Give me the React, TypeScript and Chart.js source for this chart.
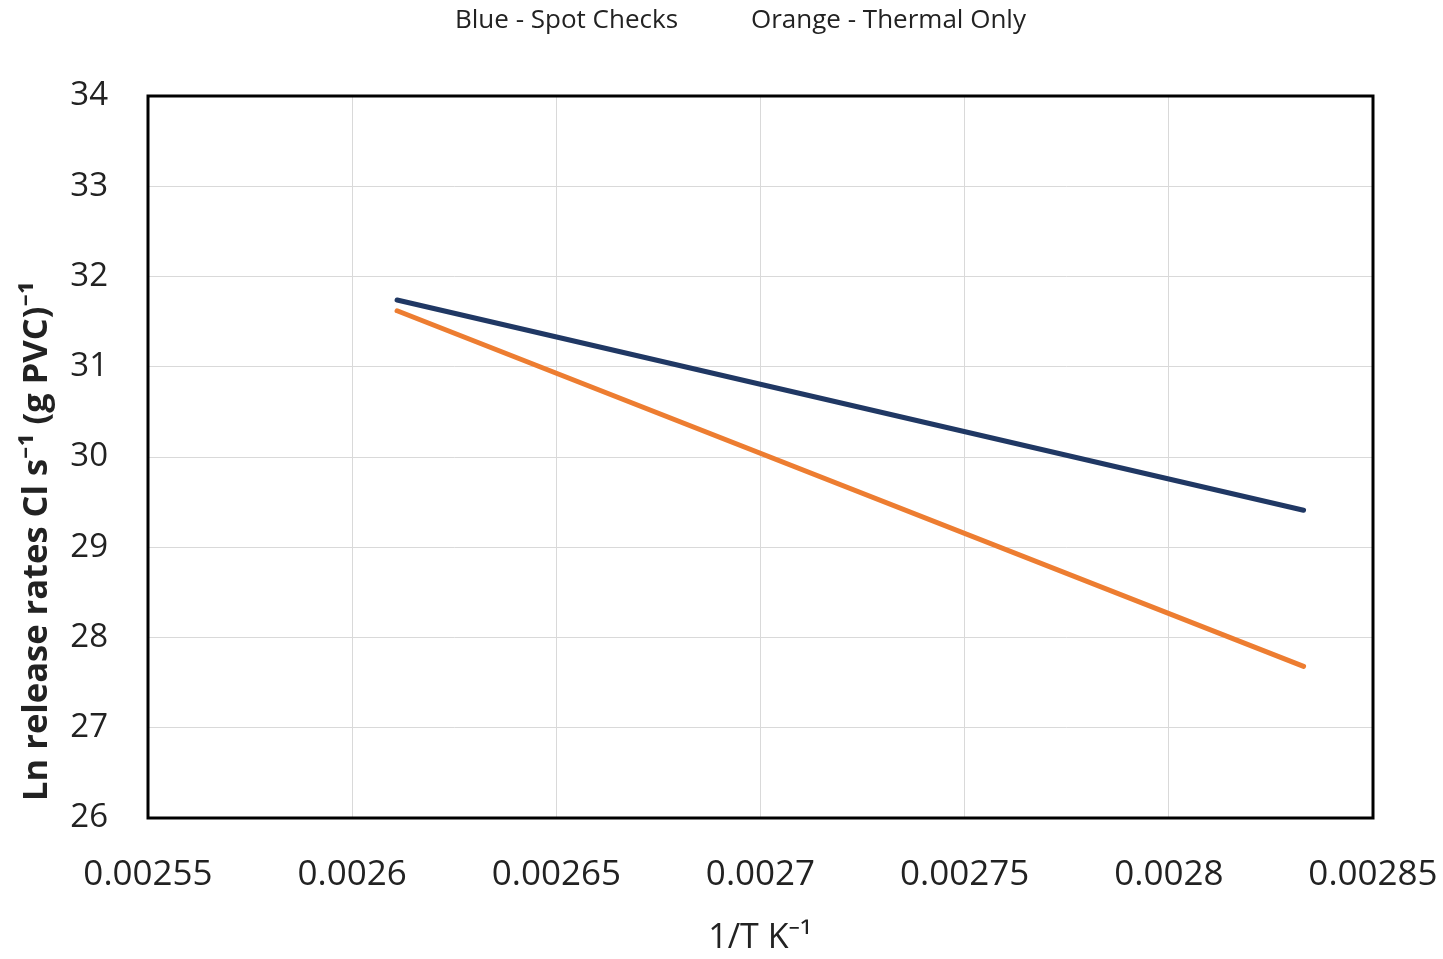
import React, { useEffect, useRef } from "react";
import { Chart, registerables } from "chart.js";

Chart.register(...registerables);

const xValues = [0.002611, 0.002833];
const spotChecks = [31.74, 29.41];
const thermalOnly = [31.62, 27.68];
const legendLeft = "Blue - Spot Checks";
const legendRight = "Orange - Thermal Only";
const xTitle = "1/T K⁻¹";
const yTitle = "Ln release rates Cl s⁻¹ (g PVC)⁻¹";

const FONT = "'Open Sans', 'Noto Sans', sans-serif";

const framePlugin = {
  id: "frame",
  afterDatasetsDraw(chart: any) {
    const { ctx, chartArea } = chart;
    ctx.save();
    ctx.strokeStyle = "#000";
    ctx.lineWidth = 3;
    ctx.strokeRect(chartArea.left, chartArea.top, chartArea.right - chartArea.left, chartArea.bottom - chartArea.top);
    ctx.restore();
  },
  afterDraw(chart: any) {
    const { ctx } = chart;
    ctx.save();
    ctx.fillStyle = "#222";
    ctx.font = `26px ${FONT}`;
    ctx.textAlign = "left";
    ctx.textBaseline = "middle";
    ctx.fillText(legendLeft, 455, 21);
    ctx.fillText(legendRight, 751, 21);
    ctx.font = `34px ${FONT}`;
    ctx.textAlign = "center";
    ctx.fillText(xTitle, 760, 938);
    ctx.translate(37, 541);
    ctx.rotate(-Math.PI / 2);
    ctx.font = `bold 34.5px ${FONT}`;
    ctx.fillText(yTitle, 0, 0);
    ctx.restore();
  },
};

export default function App() {
  const ref = useRef<HTMLCanvasElement>(null);
  useEffect(() => {
    if (!ref.current) return;
    const chart = new Chart(ref.current, {
      type: "line",
      data: {
        datasets: [
          {
            label: "Spot Checks",
            data: xValues.map((x, i) => ({ x, y: spotChecks[i] })),
            borderColor: "#203864",
            borderWidth: 5,
            borderCapStyle: "round",
            pointRadius: 0,
            fill: false,
          },
          {
            label: "Thermal Only",
            data: xValues.map((x, i) => ({ x, y: thermalOnly[i] })),
            borderColor: "#ED7D31",
            borderWidth: 5,
            borderCapStyle: "round",
            pointRadius: 0,
            fill: false,
          },
        ],
      },
      options: {
        animation: false,
        responsive: false,
        maintainAspectRatio: false,
        layout: { padding: { top: 96, right: 70, left: 0, bottom: 0 } },
        plugins: { legend: { display: false }, title: { display: false }, tooltip: { enabled: false } },
        scales: {
          x: {
            type: "linear",
            min: 0.00255,
            max: 0.00285,
            ticks: {
              stepSize: 0.00005,
              color: "#222",
              font: { family: FONT, size: 35 },
              padding: 36,
              callback: (v: any) => parseFloat(Number(v).toFixed(5)).toString(),
              maxRotation: 0,
              autoSkip: false,
            },
            grid: { color: "#d9d9d9", lineWidth: 1, drawTicks: false },
            border: { display: false },
            afterFit: (s: any) => { s.height = 141; s.paddingLeft = 0; s.paddingRight = 0; },
          },
          y: {
            type: "linear",
            min: 26,
            max: 34,
            ticks: {
              stepSize: 1,
              color: "#222",
              font: { family: FONT, size: 33 },
              padding: 40,
            },
            grid: { color: "#d9d9d9", lineWidth: 1, drawTicks: false },
            border: { display: false },
            afterFit: (s: any) => { s.width = 148; s.paddingTop = 0; s.paddingBottom = 0; },
          },
        },
      },
      plugins: [framePlugin],
    });
    return () => chart.destroy();
  }, []);
  return (
    <div style={{ position: "fixed", left: 0, top: 0, width: 1443, height: 959, background: "#fff" }}>
      <canvas ref={ref} width={1443} height={959} style={{ width: 1443, height: 959, display: "block" }} />
    </div>
  );
}
